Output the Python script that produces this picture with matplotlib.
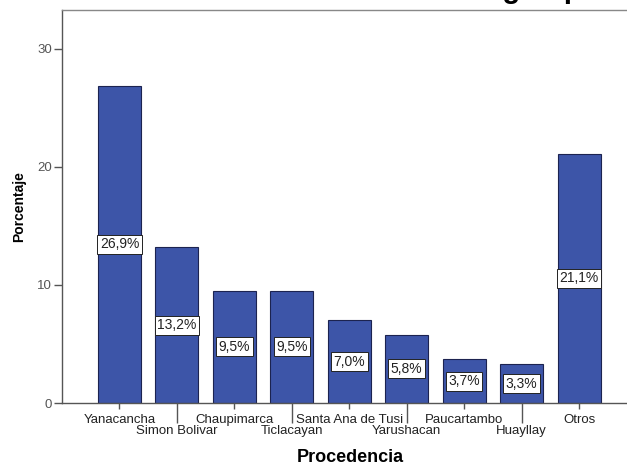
import matplotlib
matplotlib.use("Agg")
import matplotlib.pyplot as plt

plt.rcParams['font.family'] = ['Liberation Sans', 'DejaVu Sans']

categories = ["Yanacancha", "Simon Bolivar", "Chaupimarca", "Ticlacayan",
              "Santa Ana de Tusi", "Yarushacan", "Paucartambo", "Huayllay", "Otros"]
values = [26.9, 13.2, 9.5, 9.5, 7.0, 5.8, 3.7, 3.3, 21.1]
yticks = [0, 10, 20, 30]

W, H = 627, 466
fig = plt.figure(figsize=(W / 100, H / 100), dpi=100)
left, right, top, bottom = 62, 636.5, 10, 403
ax = fig.add_axes([left / W, (H - bottom) / H, (right - left) / W, (bottom - top) / H])

x = list(range(len(categories)))
ax.bar(x, values, width=0.75, color='#3D55A8', edgecolor='#1c2350', linewidth=0.8, zorder=2)

for xi, v in zip(x, values):
    ax.text(xi, v / 2, f"{v:.1f}".replace('.', ',') + "%", ha='center', va='center',
            fontsize=10, color='#222222', zorder=3,
            bbox=dict(boxstyle='square,pad=0.18', facecolor='white', edgecolor='#222222', linewidth=0.7))

ax.set_xlim(-1, 9)
ax.set_ylim(0, 33.3)
ax.set_yticks(yticks)
ax.set_yticklabels([str(t) for t in yticks], fontsize=9.5, color='#555555')
ax.tick_params(axis='y', direction='out', length=6, width=1, color='#555555', pad=1)

even = [i for i in x if i % 2 == 0]
odd = [i for i in x if i % 2 == 1]
ax.set_xticks(even)
ax.set_xticklabels([categories[i] for i in even], fontsize=9.5, color='#222222')
ax.set_xticks(odd, minor=True)
ax.set_xticklabels([categories[i] for i in odd], minor=True, fontsize=9.5, color='#222222')
ax.tick_params(axis='x', which='major', direction='out', length=4, width=1, color='#555555', pad=4)
ax.tick_params(axis='x', which='minor', direction='out', length=14.5, width=1, color='#555555', pad=1.5)

for s in ax.spines.values():
    s.set_color('#888888')
    s.set_linewidth(1)
ax.spines['left'].set_color('#555555')
ax.spines['bottom'].set_color('#555555')

ax.set_ylabel("Porcentaje", fontsize=10, fontweight='bold', labelpad=8)
fig.text(350 / W, (H - 458) / H, "Procedencia", ha='center', va='center',
         fontsize=13, fontweight='bold')

fig.text(470 / W, 1 + 2.5 / H, "según procedencia", ha='left', va='baseline',
         fontsize=21, fontweight='bold')

fig.savefig("out.png", dpi=100)
